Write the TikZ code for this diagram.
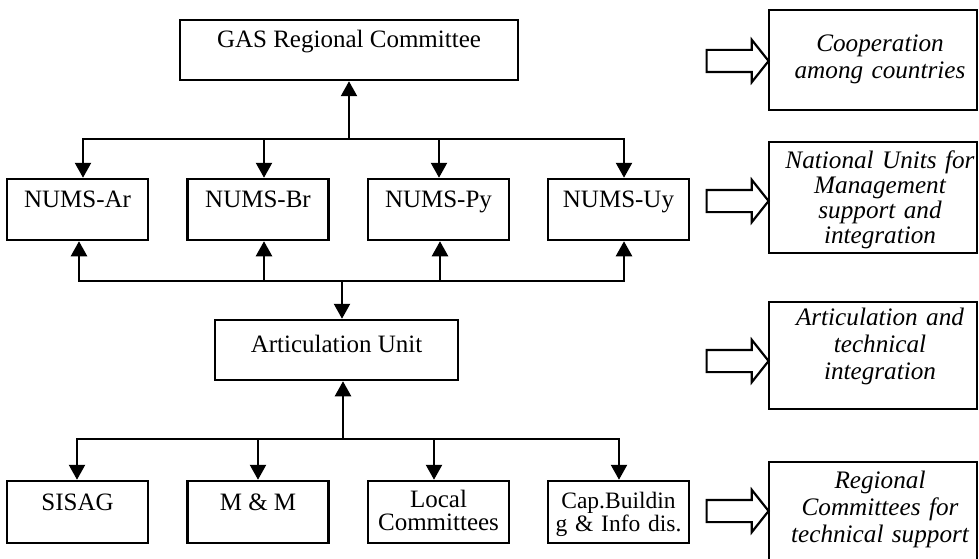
\documentclass[tikz,border=0pt]{standalone}
\usepackage{fontspec}
\setmainfont{Liberation Serif}
\usetikzlibrary{arrows.meta,shapes.arrows}
\begin{document}
\begin{tikzpicture}[x=1pt,y=-1pt,
  box/.style={draw, line width=2.5pt, inner sep=0pt, font=\fontsize{25}{26}\selectfont},
  nums/.style={box, minimum width=141pt, minimum height=61pt, text height=28pt, text depth=33pt},
  low/.style={box, minimum width=141pt, minimum height=62pt},
  rbox/.style={draw, line width=2.5pt, inner sep=0pt, minimum width=208pt},
  rtext/.style={inner sep=0pt, anchor=base, text width=204pt, align=center},
  arr/.style={line width=2.4pt, -{Triangle[width=16pt,length=15pt]}},
  hollow/.style={single arrow, draw, line width=2.2pt, fill=white, inner sep=0pt,
    text height=10pt, text depth=10pt, text width=0pt,
    minimum height=62pt, single arrow head extend=10pt,
    single arrow tip angle=103, anchor=tip}]
\useasboundingbox (0,0) rectangle (979,559);
\clip (0,0) rectangle (979,559);
\fill[white] (0,0) rectangle (979,559);

% top
\node[box, minimum width=338pt, minimum height=60pt, text height=28pt, text depth=32pt] (gas) at (349,50) {GAS Regional Committee};

% NUMS row
\node[nums] (ar) at (77.5,209.5) {NUMS-Ar};
\node[nums] (br) at (258,209.5) {NUMS-Br};
\node[nums] (py) at (438.5,209.5) {NUMS-Py};
\node[nums] (uy) at (618.5,209.5) {NUMS-Uy};

% articulation
\node[box, minimum width=243pt, minimum height=60pt, text height=32pt, text depth=28pt] (art) at (336.5,350) {Articulation Unit};

% bottom row
\node[low, text height=29pt, text depth=33pt] (sisag) at (77.5,512) {SISAG};
\node[low, text height=29pt, text depth=33pt] (mm) at (258,512) {M \& M};
\node[low, text height=26pt, text depth=36pt, text width=141pt, align=center, font=\fontsize{25}{23}\selectfont] (loc) at (438.5,512) {Local\\Committees};
\node[low, text height=27pt, text depth=35pt, text width=141pt, align=center, font=\fontsize{23.5}{23}\selectfont] (cap) at (618.5,512) {Cap.Buildin\\g \& Info dis.};

% connectors
\coordinate (b1) at (349,139);
\coordinate (b2) at (342,281);
\coordinate (b3) at (343,439);
\draw[arr] (b1) -- (gas.south);
\draw[arr] (b1) -| ([xshift=5.5pt]ar.north);
\draw[arr] (b1) -| ([xshift=6pt]br.north);
\draw[arr] (b1) -| ([xshift=0.5pt]py.north);
\draw[arr] (b1) -| ([xshift=5.5pt]uy.north);

\draw[arr] (b2) -| ([xshift=1.5pt]ar.south);
\draw[arr] (b2) -| ([xshift=6pt]br.south);
\draw[arr] (b2) -| ([xshift=1.5pt]py.south);
\draw[arr] (b2) -| ([xshift=5.5pt]uy.south);
\draw[arr] (b2) -- (b2 |- art.north);

\draw[arr] (b3) -- (b3 |- art.south);
\draw[arr] (b3) -| ([xshift=-0.5pt]sisag.north);
\draw[arr] (b3) -| (mm.north);
\draw[arr] (b3) -| ([xshift=-4.5pt]loc.north);
\draw[arr] (b3) -| ([xshift=0.5pt]cap.north);

% right column
\node[rbox, minimum height=100pt] (r1) at (873,60) {};
\node[rbox, minimum height=111pt] (r2) at (873,197.5) {};
\node[rbox, minimum height=107pt] (r3) at (873,355.5) {};
\node[rbox, minimum height=118pt] (r4) at (873,521) {};

\node[rtext, font=\fontsize{25.2}{27}\selectfont\itshape] (t1) at (880,52) {Cooperation\\among countries};
\node[rtext, font=\fontsize{25.2}{25}\selectfont\itshape] (t2) at (880,168) {National Units for\\Management\\support and\\integration};
\node[rtext, font=\fontsize{25.2}{27}\selectfont\itshape] (t3) at (880,325) {Articulation and\\technical\\integration};
\node[rtext, font=\fontsize{25.2}{27}\selectfont\itshape] (t4) at (880,488) {Regional\\Committees for\\technical support};

\node[hollow] (h1) at (770,61) {};
\node[hollow] (h2) at (770,201) {};
\node[hollow] (h3) at (770,361) {};
\node[hollow] (h4) at (770,511) {};
\end{tikzpicture}
\end{document}
